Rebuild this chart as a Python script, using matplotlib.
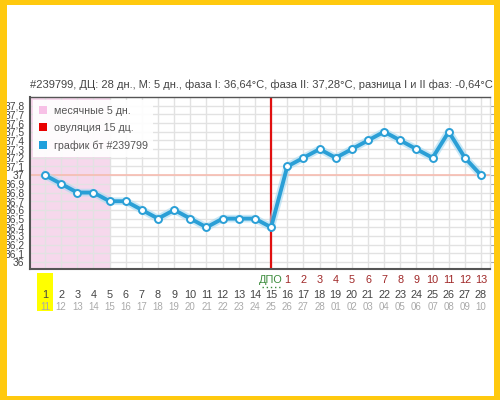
import matplotlib
matplotlib.use("Agg")
import matplotlib.pyplot as plt
from matplotlib.patches import Rectangle, Patch
import matplotlib.transforms as mtransforms

plt.rcParams['font.family'] = ['Liberation Sans', 'DejaVu Sans']

days = list(range(1, 29))
temps = [37.0, 36.9, 36.8, 36.8, 36.7, 36.7, 36.6, 36.5, 36.6, 36.5,
         36.4, 36.5, 36.5, 36.5, 36.4, 37.1, 37.2, 37.3, 37.2, 37.3,
         37.4, 37.5, 37.4, 37.3, 37.2, 37.5, 37.2, 37.0]
dates = ['11', '12', '13', '14', '15', '16', '17', '18', '19', '20',
         '21', '22', '23', '24', '25', '26', '27', '28', '01', '02',
         '03', '04', '05', '06', '07', '08', '09', '10']
dpo_labels = [str(i) for i in range(1, 14)]
ytick_vals = [36.0 + 0.1 * i for i in range(19)]
ytick_labels = ['36', '36,1', '36,2', '36,3', '36,4', '36,5', '36,6', '36,7', '36,8', '36,9',
                '37', '37,1', '37,2', '37,3', '37,4', '37,5', '37,6', '37,7', '37,8']

title = ("#239799, ДЦ: 28 дн., М: 5 дн., фаза I: 36,64°C, фаза II: 37,28°C, "
         "разница I и II фаз: -0,64°C")
menses_days = 5
ovulation_day = 15
coverline = 37.0

W, H = 500, 400
fig = plt.figure(figsize=(5, 4), dpi=100)
fig.patch.set_facecolor('white')

L, R, T, B = 30, 490, 97, 269
ax = fig.add_axes([L / W, 1 - B / H, (R - L) / W, (B - T) / H])
px = 16.15
xmin = 1 - (45 - L) / px
xmax = 1 + (R - 45) / px
ax.set_xlim(xmin, xmax)
ax.set_ylim(35.92, 37.9)

# grid
for d in days:
    ax.axvline(d, color='#e2e2e2', lw=1, zorder=1)
for v in ytick_vals:
    ax.axhline(v, color='#e2e2e2', lw=1, zorder=1)

# menses span
ax.axvspan(xmin, menses_days, color='#f0bfe0', alpha=0.6, lw=0, zorder=0.5)
# coverline
ax.axhline(coverline, color='#f7bcb0', lw=1.2, zorder=1.5)
# ovulation
ax.axvline(ovulation_day, color='#e01010', lw=1.6, zorder=2)

# temperature line with glow
ax.plot(days, temps, color='#a6daf2', lw=5.5, alpha=0.6, zorder=3, solid_joinstyle='round')
ax.plot(days, temps, color='#2a9fd6', lw=2.8, zorder=4, marker='o', markersize=5,
        markerfacecolor='white', markeredgecolor='#2a9fd6', markeredgewidth=1.4)

# spines
for s in ['left', 'bottom', 'top']:
    ax.spines[s].set_color('#555555')
ax.spines['left'].set_linewidth(1.5)
ax.spines['bottom'].set_linewidth(1.5)
ax.spines['top'].set_linewidth(1.0)
ax.spines['right'].set_color('#dddddd')
ax.spines['right'].set_linewidth(1.0)

ax.set_yticks(ytick_vals)
ax.set_yticklabels(ytick_labels)
ax.tick_params(axis='y', which='both', left=False, right=True, length=4, color='#aaaaaa',
               labelsize=7.4, labelcolor='#444444', pad=0, direction='out')
ax.tick_params(axis='x', bottom=False, labelbottom=False)

# x labels
trans = mtransforms.blended_transform_factory(ax.transData, ax.transAxes)
hgt = B - T
def ya(pyy):
    return (B - pyy) / hgt

ax.add_patch(Rectangle((0.5, ya(311)), 1.0, (311 - 273) / hgt, transform=trans,
                       facecolor='#ffff00', edgecolor='none', clip_on=False, zorder=0))
for d, dt in zip(days, dates):
    ax.text(d, ya(295), str(d), transform=trans, ha='center', va='center',
            fontsize=7.8, color='#444444', clip_on=False)
    ax.text(d, ya(307), dt, transform=trans, ha='center', va='center',
            fontsize=7.0, color='#aaaaaa', clip_on=False)
for i, lab in enumerate(dpo_labels):
    ax.text(ovulation_day + 1 + i, ya(280), lab, transform=trans, ha='center', va='center',
            fontsize=7.8, color='#a02828', clip_on=False)
ax.text(ovulation_day, ya(280), 'ДПО', transform=trans, ha='center', va='center',
        fontsize=7.8, color='#3a8a3a', clip_on=False)
ax.plot([ovulation_day - 0.55, ovulation_day + 0.55], [ya(287), ya(287)], transform=trans,
        color='#3a8a3a', lw=1, ls=(0, (1, 2)), clip_on=False)

# legend
handles = [Patch(facecolor='#f7c0e6', edgecolor='none', label='месячные 5 дн.'),
           Patch(facecolor='#e80000', edgecolor='none', label='овуляция 15 дц.'),
           Patch(facecolor='#1fa0dc', edgecolor='none', label='график бт #239799')]
leg = ax.legend(handles=handles, loc='upper left', bbox_to_anchor=(0.0, 1.0),
                fontsize=7.7, frameon=True, fancybox=False, handlelength=0.8,
                handleheight=0.8, handletextpad=0.6, labelspacing=0.7,
                borderpad=0.55, borderaxespad=0.25, labelcolor='#555555')
leg.get_frame().set_facecolor('white')
leg.get_frame().set_alpha(0.9)
leg.get_frame().set_edgecolor('none')
leg.set_zorder(6)

# title
fig.text(L / W, 1 - 85 / H, title, ha='left', va='center', fontsize=8.0, color='#444444')

# yellow frame
yc = '#ffc90e'
for (x0, y0, w, h) in [(0, 0, 7, H), (494, 0, 6, H), (0, 395, W, 5), (0, 0, W, 4)]:
    fig.patches.append(Rectangle((x0 / W, y0 / H), w / W, h / H, transform=fig.transFigure,
                                 facecolor=yc, edgecolor='none', zorder=10))

fig.savefig('out.png', dpi=100)
